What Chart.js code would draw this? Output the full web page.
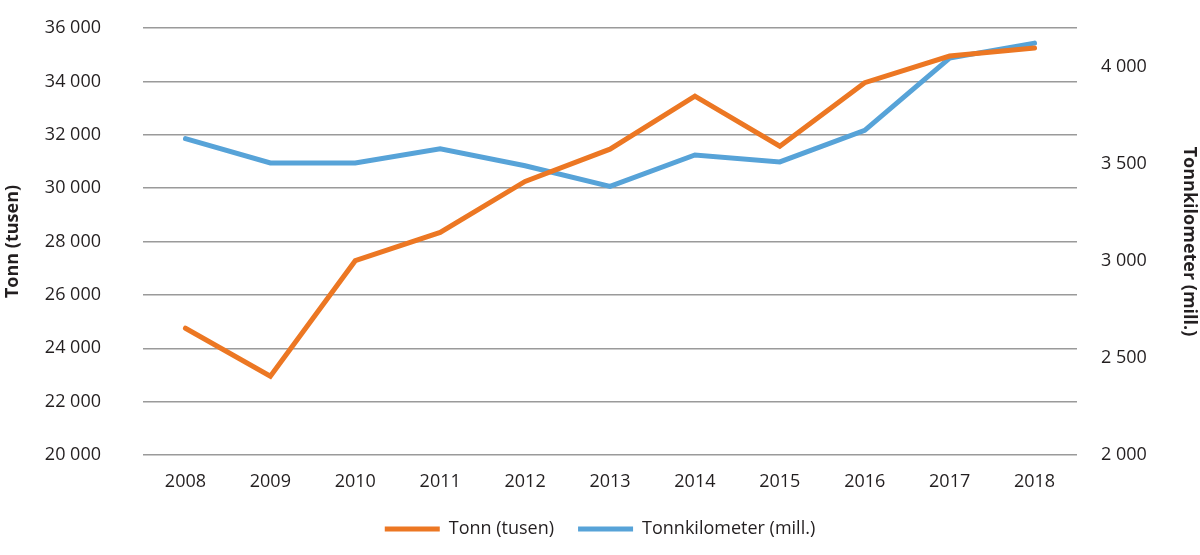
<!DOCTYPE html>
<html>
<head>
<meta charset="utf-8">
<script src="https://cdn.jsdelivr.net/npm/chart.js"></script>
<style>
  html, body { margin: 0; padding: 0; background: #fff; }
  #wrap { width: 1200px; height: 555px; }
</style>
</head>
<body>
<div id="wrap"><canvas id="c"></canvas></div>
<script>
// år
const years = ['2008', '2009', '2010', '2011', '2012', '2013', '2014', '2015', '2016', '2017', '2018'];
// Tonn (tusen), venstre akse
const tonn = [24750, 22950, 27280, 28340, 30250, 31460, 33450, 31570, 33950, 34950, 35250];
// Tonnkilometer (mill.), høyre akse
const tonnkm = [3630, 3505, 3505, 3578, 3490, 3384, 3546, 3510, 3673, 4045, 4122];
// merkene på høyre akse
const kmTicks = [2000, 2500, 3000, 3500, 4000];

const fmt = v => String(v).replace(/\B(?=(\d{3})+(?!\d))/g, ' ');
const font = { family: '"Open Sans", "Noto Sans", sans-serif', size: 18 };
const txt = '#231f20';

new Chart(document.getElementById('c'), {
  type: 'line',
  data: {
    labels: years,
    datasets: [
      {
        label: 'Tonn (tusen)',
        data: tonn,
        yAxisID: 'y',
        borderColor: '#ec7723',
        backgroundColor: '#ec7723',
        borderWidth: 5,
        borderCapStyle: 'round',
        pointRadius: 0,
        tension: 0
      },
      {
        label: 'Tonnkilometer (mill.)',
        data: tonnkm,
        yAxisID: 'y2',
        borderColor: '#57a3d8',
        backgroundColor: '#57a3d8',
        borderWidth: 5,
        borderCapStyle: 'round',
        pointRadius: 0,
        tension: 0
      }
    ]
  },
  options: {
    responsive: true,
    maintainAspectRatio: false,
    animation: false,
    layout: { padding: { top: 28, bottom: 7 } },
    plugins: {
      tooltip: { enabled: false },
      legend: {
        position: 'bottom',
        labels: {
          usePointStyle: true,
          pointStyle: 'line',
          pointStyleWidth: 55,
          padding: 24,
          color: txt,
          font: font
        }
      }
    },
    scales: {
      x: {
        offset: true,
        afterFit: s => { s.height = 41; },
        grid: { display: false, drawTicks: false },
        border: { display: false },
        ticks: { color: txt, font: font, padding: 16 }
      },
      y: {
        position: 'left',
        min: 20000,
        max: 36000,
        afterFit: s => { s.width = 143; },
        ticks: { stepSize: 2000, color: txt, font: font, padding: 4, callback: v => fmt(v) },
        grid: { color: '#9a9a9a', lineWidth: 1.4, drawTicks: true, tickLength: 38, tickColor: 'rgba(0,0,0,0)' },
        border: { display: false },
        title: { display: true, text: 'Tonn (tusen)', color: txt, font: { ...font, weight: 'bold' }, padding: { top: 2, bottom: 0 } }
      },
      y2: {
        position: 'right',
        min: 2000,
        max: 4200,
        afterFit: s => { s.width = 123; },
        afterBuildTicks: s => { s.ticks = kmTicks.map(v => ({ value: v })); },
        ticks: { color: txt, font: font, padding: 4, callback: v => fmt(v) },
        grid: { drawOnChartArea: false, drawTicks: true, tickLength: 20, tickColor: 'rgba(0,0,0,0)' },
        border: { display: false },
        title: { display: true, text: 'Tonnkilometer (mill.)', color: txt, font: { ...font, weight: 'bold' }, padding: 0 }
      }
    }
  }
});
</script>
</body>
</html>
